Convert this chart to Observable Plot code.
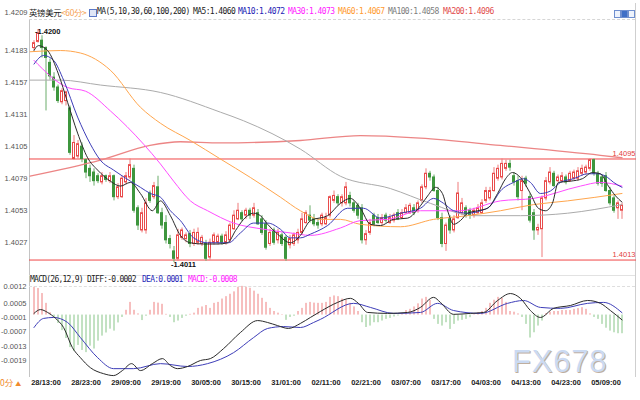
<!DOCTYPE html>
<html><head><meta charset="utf-8">
<script src="https://cdn.jsdelivr.net/npm/d3@7"></script>
<script src="https://cdn.jsdelivr.net/npm/@observablehq/plot@0.6"></script>
<style>
html,body{margin:0;padding:0;background:#fff;}
#wrap{position:relative;width:640px;height:400px;overflow:hidden;background:#fff;font-family:"Liberation Sans",Arial,sans-serif;}
#wrap svg{position:absolute;left:0;}
.hdr{position:absolute;white-space:pre;font-family:"DejaVu Sans Mono",monospace;font-size:8px;letter-spacing:-0.6px;line-height:10px;}
.ln{position:absolute;}
</style></head><body><div id="wrap"></div>
<script>
// ---------------- DATA ----------------
const candleOpen = [1.4185,1.4190,1.4191,1.4185,1.4173,1.4161,1.4153,1.4141,1.4142,1.4136,
1.4095,1.4097,1.4105,1.4094,1.4087,1.4084,1.4081,1.4076,1.4081,1.4077,
1.4081,1.4064,1.4064,1.4076,1.4080,1.4087,1.4055,1.4037,1.4037,1.4067,
1.4064,1.4072,1.4051,1.4043,1.4030,1.4020,1.4014,1.4031,1.4030,1.4034,
1.4026,1.4027,1.4026,1.4026,1.4015,1.4027,1.4027,1.4032,1.4027,1.4029,
1.4038,1.4046,1.4051,1.4049,1.4053,1.4049,1.4051,1.4046,1.4042,1.4026,
1.4037,1.4029,1.4033,1.4031,1.4025,1.4026,1.4029,1.4035,1.4043,1.4049,
1.4046,1.4043,1.4042,1.4042,1.4049,1.4061,1.4064,1.4059,1.4059,1.4065,
1.4059,1.4057,1.4055,1.4029,1.4035,1.4049,1.4047,1.4043,1.4049,1.4043,
1.4045,1.4051,1.4047,1.4051,1.4051,1.4055,1.4053,1.4061,1.4072,1.4083,
1.4080,1.4069,1.4047,1.4026,1.4046,1.4037,1.4047,1.4051,1.4055,1.4053,
1.4049,1.4051,1.4051,1.4061,1.4063,1.4069,1.4079,1.4080,1.4087,1.4091,
1.4081,1.4077,1.4069,1.4079,1.4064,1.4051,1.4037,1.4038,1.4063,1.4076,
1.4083,1.4077,1.4077,1.4080,1.4077,1.4079,1.4079,1.4083,1.4084,1.4087,
1.4094,1.4083,1.4080,1.4081,1.4069,1.4063,1.4055,1.4053];
const candleHigh = [1.4191,1.4200,1.4195,1.4186,1.4176,1.4165,1.4155,1.4152,1.4150,1.4138,
1.4114,1.4110,1.4108,1.4095,1.4090,1.4087,1.4083,1.4084,1.4082,1.4084,
1.4082,1.4075,1.4081,1.4084,1.4095,1.4090,1.4057,1.4055,1.4063,1.4069,
1.4076,1.4081,1.4055,1.4049,1.4033,1.4024,1.4038,1.4039,1.4035,1.4037,
1.4038,1.4039,1.4033,1.4029,1.4030,1.4035,1.4034,1.4034,1.4036,1.4043,
1.4053,1.4059,1.4053,1.4055,1.4055,1.4059,1.4054,1.4049,1.4045,1.4038,
1.4039,1.4038,1.4035,1.4033,1.4033,1.4035,1.4038,1.4051,1.4053,1.4057,
1.4050,1.4046,1.4051,1.4051,1.4065,1.4069,1.4066,1.4066,1.4076,1.4068,
1.4061,1.4059,1.4058,1.4037,1.4046,1.4051,1.4050,1.4050,1.4051,1.4050,
1.4051,1.4054,1.4054,1.4058,1.4059,1.4058,1.4061,1.4074,1.4087,1.4085,
1.4082,1.4072,1.4051,1.4043,1.4049,1.4049,1.4076,1.4063,1.4057,1.4055,
1.4055,1.4058,1.4062,1.4072,1.4072,1.4088,1.4090,1.4095,1.4094,1.4094,
1.4084,1.4081,1.4081,1.4081,1.4067,1.4054,1.4042,1.4065,1.4080,1.4088,
1.4085,1.4082,1.4084,1.4082,1.4085,1.4086,1.4088,1.4090,1.4090,1.4095,
1.4095,1.4085,1.4082,1.4084,1.4072,1.4065,1.4061,1.4059];
const candleLow = [1.4183,1.4189,1.4177,1.4134,1.4159,1.4150,1.4140,1.4139,1.4138,1.4098,
1.4094,1.4095,1.4092,1.4079,1.4076,1.4073,1.4075,1.4074,1.4076,1.4075,
1.4061,1.4062,1.4063,1.4074,1.4078,1.4051,1.4037,1.4035,1.4034,1.4059,
1.4062,1.4050,1.4038,1.4026,1.4022,1.4011,1.4012,1.4029,1.4027,1.4023,
1.4024,1.4025,1.4024,1.4012,1.4013,1.4025,1.4025,1.4025,1.4025,1.4027,
1.4037,1.4045,1.4044,1.4046,1.4046,1.4047,1.4041,1.4033,1.4021,1.4024,
1.4025,1.4026,1.4024,1.4012,1.4022,1.4024,1.4026,1.4033,1.4042,1.4043,
1.4040,1.4038,1.4040,1.4041,1.4047,1.4059,1.4057,1.4056,1.4057,1.4056,
1.4051,1.4046,1.4026,1.4025,1.4033,1.4040,1.4042,1.4041,1.4043,1.4042,
1.4043,1.4045,1.4046,1.4050,1.4050,1.4049,1.4051,1.4059,1.4070,1.4077,
1.4068,1.4045,1.4023,1.4020,1.4034,1.4035,1.4046,1.4049,1.4047,1.4046,
1.4047,1.4050,1.4050,1.4059,1.4061,1.4068,1.4077,1.4078,1.4085,1.4085,
1.4073,1.4061,1.4053,1.4072,1.4043,1.4029,1.4033,1.4015,1.4061,1.4074,
1.4072,1.4076,1.4076,1.4074,1.4076,1.4077,1.4077,1.4081,1.4082,1.4085,
1.4081,1.4073,1.4072,1.4068,1.4057,1.4051,1.4046,1.4046];
const candleClose = [1.4189,1.4197,1.4185,1.4177,1.4162,1.4153,1.4142,1.4150,1.4149,1.4100,
1.4108,1.4107,1.4095,1.4084,1.4081,1.4077,1.4077,1.4081,1.4078,1.4081,
1.4064,1.4072,1.4079,1.4081,1.4090,1.4053,1.4041,1.4051,1.4059,1.4061,
1.4073,1.4051,1.4041,1.4029,1.4026,1.4014,1.4033,1.4037,1.4033,1.4026,
1.4035,1.4035,1.4031,1.4014,1.4027,1.4033,1.4032,1.4027,1.4033,1.4041,
1.4049,1.4053,1.4046,1.4053,1.4049,1.4055,1.4042,1.4035,1.4023,1.4035,
1.4027,1.4035,1.4026,1.4014,1.4030,1.4033,1.4035,1.4046,1.4051,1.4045,
1.4042,1.4041,1.4049,1.4047,1.4064,1.4065,1.4059,1.4064,1.4072,1.4059,
1.4053,1.4049,1.4029,1.4034,1.4043,1.4042,1.4043,1.4047,1.4045,1.4047,
1.4049,1.4046,1.4051,1.4055,1.4057,1.4051,1.4059,1.4072,1.4083,1.4080,
1.4069,1.4047,1.4026,1.4041,1.4037,1.4046,1.4067,1.4059,1.4049,1.4049,
1.4053,1.4055,1.4059,1.4069,1.4069,1.4083,1.4087,1.4091,1.4091,1.4088,
1.4076,1.4064,1.4077,1.4075,1.4045,1.4037,1.4039,1.4063,1.4077,1.4084,
1.4073,1.4080,1.4081,1.4076,1.4083,1.4084,1.4085,1.4087,1.4088,1.4094,
1.4083,1.4075,1.4075,1.4069,1.4059,1.4053,1.4059,1.4057];

// moving averages: [bar, value]
const ma5Line = [[0,1.4183],[1.1,1.4187],[3.4,1.4183],[6.1,1.4164],[8.4,1.4141],[10.9,1.4116],[13.4,1.4096],[15.9,1.4086],[19.1,1.4077],[21.6,1.4073],[24.1,1.4076],[26.6,1.4067],[29.6,1.4053],[31.6,1.4061],[34.1,1.4049],[36.6,1.4033],[39.1,1.4027],[42.4,1.4026],[45.9,1.4026],[48.4,1.4027],[50.4,1.4037],[52.4,1.4046],[54.9,1.4051],[56.6,1.4049],[58.4,1.4042],[60.9,1.4034],[64.1,1.4027],[66.6,1.4033],[69.1,1.4045],[73.4,1.4049],[76.6,1.4059],[79.1,1.4063],[81.6,1.4055],[84.1,1.4042],[86.6,1.4041],[89.9,1.4046],[93.4,1.4047],[96.6,1.4057],[98.4,1.4065],[100.4,1.4072],[102.1,1.4067],[103.4,1.4053],[104.9,1.4042],[106.6,1.4045],[108.4,1.4051],[110.9,1.4053],[113.4,1.4055],[115.9,1.4067],[117.9,1.4079],[119.6,1.4084],[121.6,1.4080],[124.1,1.4067],[126.1,1.4055],[127.9,1.4053],[129.6,1.4059],[131.1,1.4076],[134.1,1.4077],[137.1,1.4079],[139.6,1.4084],[141.6,1.4083],[143.6,1.4073],[145.4,1.4065],[147,1.4060]];
const ma10Line = [[0,1.4172],[2.4,1.4179],[4.9,1.4175],[7.4,1.4159],[10.9,1.4129],[14.1,1.4107],[16.6,1.4094],[19.9,1.4086],[24.1,1.4077],[26.6,1.4072],[29.1,1.4067],[31.6,1.4064],[34.1,1.4053],[36.6,1.4045],[39.9,1.4031],[43.4,1.4027],[48.6,1.4027],[51.6,1.4035],[54.9,1.4043],[58.4,1.4043],[61.6,1.4038],[64.1,1.4031],[66.6,1.4031],[69.1,1.4034],[73.4,1.4041],[78.4,1.4055],[82.4,1.4055],[86.6,1.4047],[91.6,1.4051],[96.6,1.4055],[99.9,1.4063],[102.4,1.4059],[104.9,1.4053],[108.4,1.4051],[111.6,1.4053],[114.1,1.4057],[116.6,1.4069],[119.9,1.4076],[122.4,1.4079],[124.1,1.4076],[126.6,1.4067],[129.1,1.4069],[131.6,1.4076],[134.9,1.4079],[138.4,1.4083],[140.9,1.4083],[143.4,1.4080],[144.9,1.4076],[147,1.4072]];
const ma30Line = [[0,1.4175],[8.4,1.4153],[12.9,1.4150],[19.1,1.4134],[27.4,1.4107],[31.6,1.4091],[34.9,1.4077],[39.1,1.4061],[43.4,1.4053],[49.9,1.4043],[57.4,1.4038],[64.1,1.4035],[69.1,1.4033],[76.6,1.4039],[81.6,1.4045],[88.4,1.4046],[96.6,1.4053],[106.6,1.4053],[116.6,1.4061],[124.9,1.4063],[136.6,1.4073],[141.6,1.4076],[147,1.4073]];
const ma60Line = [[-1,1.4182],[6.6,1.4183],[11.6,1.4181],[19.1,1.4167],[26.6,1.4137],[31.6,1.4124],[39.1,1.4110],[46.6,1.4095],[54.1,1.4080],[61.6,1.4064],[66.6,1.4053],[71.6,1.4046],[76.6,1.4046],[81.6,1.4042],[91.6,1.4040],[99.9,1.4046],[108.4,1.4049],[116.6,1.4053],[124.9,1.4058],[133.4,1.4061],[147,1.4067]];
const ma100Line = [[-1,1.4159],[6.6,1.4159],[16.6,1.4155],[31.6,1.4149],[46.6,1.4133],[52.4,1.4126],[66.6,1.4103],[76.6,1.4081],[89.1,1.4071],[99.1,1.4059],[109.9,1.4049],[121.6,1.4049],[133.4,1.4051],[147,1.4058]];
const ma200Line = [[-1,1.4081],[16.6,1.4094],[29,1.4106],[36.6,1.4109],[46.6,1.4108],[66.6,1.4110],[81.6,1.4114],[96.6,1.4112],[116.6,1.4106],[141.6,1.4098],[147,1.4096]];

// MACD histogram per bar
const macdHist = [11.6e-4,11.1e-4,9.0e-4,4.9e-4,1.0e-4,-1.4e-4,-3.5e-4,-6.5e-4,-9.8e-4,-13.6e-4,
-15.2e-4,-12.7e-4,-14.8e-4,-15.7e-4,-13.0e-4,-14.2e-4,-10.9e-4,-8.8e-4,-7.5e-4,-5.9e-4,
-6.7e-4,-3.3e-4,-1.0e-4,2.0e-4,5.3e-4,2.0e-4,0.5e-4,-2.3e-4,-0.5e-4,2.0e-4,
5.3e-4,5.0e-4,4.5e-4,0.3e-4,-1.0e-4,-3.2e-4,-2.5e-4,-1.4e-4,-0.5e-4,0.3e-4,
0.8e-4,2.8e-4,3.4e-4,4.0e-4,2.8e-4,4.9e-4,5.3e-4,6.7e-4,7.7e-4,8.7e-4,
9.7e-4,11.6e-4,12.0e-4,11.6e-4,11.2e-4,10.0e-4,8.7e-4,7.0e-4,5.3e-4,2.8e-4,
1.5e-4,0.8e-4,0.2e-4,-2.2e-4,-1.0e-4,-0.5e-4,1.5e-4,2.8e-4,4.9e-4,5.3e-4,
5.0e-4,4.9e-4,4.9e-4,5.3e-4,7.4e-4,8.0e-4,7.7e-4,6.7e-4,6.2e-4,4.9e-4,
3.4e-4,1.5e-4,-3.2e-4,-5.2e-4,-4.6e-4,-3.2e-4,-3.2e-4,-2.5e-4,-1.8e-4,-1.4e-4,
-0.8e-4,-0.4e-4,0.5e-4,1.9e-4,2.4e-4,3.4e-4,4.7e-4,6.7e-4,7.4e-4,6.2e-4,
-1.8e-4,-3.9e-4,-4.6e-4,-3.2e-4,-6.0e-4,-3.9e-4,-2.5e-4,-2.2e-4,-1.8e-4,-1.1e-4,
0.2e-4,1.0e-4,1.5e-4,2.8e-4,4.9e-4,6.2e-4,7.4e-4,7.0e-4,5.3e-4,1.5e-4,
1.2e-4,0.5e-4,-1.0e-4,-3.9e-4,-9.6e-4,-7.4e-4,-4.6e-4,-2.5e-4,0.6e-4,1.2e-4,
1.5e-4,1.5e-4,1.9e-4,1.9e-4,1.9e-4,2.4e-4,2.7e-4,3.1e-4,2.4e-4,0.5e-4,
-1.0e-4,-1.8e-4,-3.9e-4,-5.5e-4,-6.7e-4,-7.4e-4,-7.8e-4,-7.8e-4];
const macdDiff = [[0,0.7e-4],[1.6,2.3e-4],[3.4,1.1e-4],[5.4,-1.4e-4],[7.4,-5.2e-4],[9.6,-13.6e-4],[11.6,-17.8e-4],[14.1,-22e-4],[17.4,-24.5e-4],[19.9,-25.3e-4],[22.1,-23.2e-4],[24.4,-20.3e-4],[26.6,-23.2e-4],[29.6,-20.3e-4],[32.1,-18.2e-4],[34.1,-21.1e-4],[35.9,-22.4e-4],[38.4,-21.5e-4],[41.6,-19e-4],[44.1,-18.2e-4],[47.4,-14e-4],[51.6,-7.3e-4],[55.9,-2.3e-4],[58.4,-3.1e-4],[60.9,-4.4e-4],[63.6,-5.6e-4],[66.6,-3.5e-4],[69.1,-1e-4],[71.6,1.5e-4],[75.9,5.3e-4],[79.1,7.0e-4],[81.1,4.9e-4],[83.4,1.1e-4],[88.4,0.7e-4],[93.4,1.1e-4],[96.6,3.2e-4],[99.9,7.4e-4],[101.6,5.3e-4],[104.9,0.3e-4],[109.1,0.7e-4],[112.4,1.1e-4],[115.9,6.1e-4],[119.1,9.0e-4],[121.6,7.0e-4],[124.1,1.9e-4],[126.6,-1.0e-4],[129.9,2.8e-4],[134.1,4.0e-4],[138.4,6.1e-4],[141.6,4.9e-4],[144.1,1.9e-4],[147,-2e-4]];
const macdDea = [[0,-5.2e-4],[2.4,-1.4e-4],[4.9,-1.0e-4],[8.4,-3.1e-4],[11.6,-9.4e-4],[15.9,-17.8e-4],[19.9,-22.4e-4],[24.9,-22.4e-4],[31.6,-20.3e-4],[38.4,-21.5e-4],[43.4,-20.3e-4],[49.9,-15.7e-4],[54.9,-9.4e-4],[58.4,-5.6e-4],[62.4,-4.8e-4],[66.6,-5.2e-4],[69.9,-3.1e-4],[71.6,-1.8e-4],[79.9,4.9e-4],[84.1,3.2e-4],[89.9,0.7e-4],[96.6,1.1e-4],[100.9,4.9e-4],[104.9,1.9e-4],[111.6,0.7e-4],[118.4,4.9e-4],[122.4,6.1e-4],[126.6,3.2e-4],[131.6,2.8e-4],[138.4,4.9e-4],[142.4,5.3e-4],[147,1.0e-4]];

const priceTicks = [1.4209,1.4183,1.4157,1.4131,1.4105,1.4079,1.4053,1.4027];
const macdTicks = [0.0012,0.0005,-0.0001,-0.0007,-0.0013,-0.0019];
const timeLabels = ["28/13:00","28/23:00","29/09:00","29/19:00","30/05:00","30/15:00","31/01:00","02/11:00","02/21:00","03/07:00","03/17:00","04/03:00","04/13:00","04/23:00","05/09:00"];
const timeLabelBar = [3,13,23,33,43,53,63,73,83,93,103,113,123,133,143];
const levelLines = [1.4095, 1.4013];
const extremes = [{bar:1, value:1.4200}, {bar:35, value:1.4011}];
const maNames = ["MA5","MA10","MA30","MA60","MA100","MA200"];
const maLast = [1.4060,1.4072,1.4073,1.4067,1.4058,1.4096];
const macdNames = ["DIFF","DEA","MACD"];
const macdLast = [-0.0002,0.0001,-0.0008];

// ---------------- RENDER ----------------
const wrap = document.getElementById("wrap");
function addEl(html, css, cls){ const d=document.createElement("div"); if(cls) d.className=cls; d.innerHTML=html; d.style.cssText=css; wrap.appendChild(d); return d; }

// frame lines
addEl("", "left:29px;top:19px;width:1px;height:358px;background:#c4c4c4;", "ln");
addEl("", "left:635px;top:3px;width:1px;height:374px;background:#cfcfcf;", "ln");
addEl("", "left:29px;top:19px;width:606px;height:0;border-top:1px dashed #d6d6d6;", "ln");
addEl("", "left:29px;top:275px;width:606px;height:1px;background:#e2e2e2;", "ln");
addEl("", "left:29px;top:286px;width:606px;height:0;border-top:1px dashed #dedede;", "ln");

const X = [-1.125, 150.625];
const RED = "#e94b4b", GREEN = "#3e963e";
const bars = candleOpen.map((o,i)=>({i, o, h:candleHigh[i], l:candleLow[i], c:candleClose[i], up:candleClose[i]>=o}));
const lineOpts = (stroke, w=1) => ({x:d=>d[0], y:d=>d[1], stroke, strokeWidth:w, curve:"monotone-x"});
const axisFont = 7.5;

const pricePlot = Plot.plot({
  width:640, height:270, marginTop:18, marginBottom:8, marginLeft:29, marginRight:4,
  x:{domain:X, axis:null}, y:{domain:[1.4011,1.4209], axis:null}, color:{type:"identity"},
  style:{background:"transparent", fontFamily:"'Liberation Sans',Arial,sans-serif", overflow:"visible"},
  marks:[
    Plot.ruleY(levelLines, {stroke:"#f04646", strokeWidth:1}),
    Plot.ruleX(bars, {x:"i", y1:"l", y2:"h", stroke:d=>d.up?"#ef7a7a":"#6aac6a", strokeWidth:1}),
    Plot.rect(bars, {x1:d=>d.i-0.25, x2:d=>d.i+0.25, y1:"o", y2:"c", fill:d=>d.up?"#ffffff":GREEN, stroke:d=>d.up?RED:GREEN, strokeWidth:1}),
    Plot.line(ma200Line, lineOpts("#ec8585",1.3)),
    Plot.line(ma100Line, lineOpts("#ababab")),
    Plot.line(ma60Line, lineOpts("#ffa64d")),
    Plot.line(ma30Line, lineOpts("#ff4cff")),
    Plot.line(ma10Line, lineOpts("#3d3db8")),
    Plot.line(ma5Line, lineOpts("#2a2a2a")),
    Plot.text(priceTicks.slice(1), {x:X[0], y:d=>d, text:d=>d.toFixed(4), textAnchor:"end", dx:-2, fontSize:axisFont, fill:"#555"}),
    Plot.text(priceTicks.slice(0,1), {x:X[0], y:d=>d, text:d=>d.toFixed(4), textAnchor:"end", dx:-2, dy:-6, fontSize:axisFont, fill:"#555"}),
    Plot.text(levelLines, {x:X[1], y:d=>d, text:d=>d.toFixed(4), textAnchor:"end", dx:-1, dy:-5, fontSize:7.5, fill:"#e23c3c"}),
    Plot.text(extremes, {x:"bar", y:"value", text:d=>"-"+d.value.toFixed(4), textAnchor:"start", dx:-3, dy:2, fontSize:7.5, fontWeight:"bold", fill:"#111"})
  ]
});
pricePlot.style.top = "0px";
wrap.appendChild(pricePlot);

const histData = macdHist.map((v,i)=>({i, v}));
const macdPlot = Plot.plot({
  width:640, height:130, marginTop:13, marginBottom:23, marginLeft:29, marginRight:4,
  x:{domain:X, axis:null}, y:{domain:[-0.00261,0.00132], axis:null}, color:{type:"identity"},
  style:{background:"transparent", fontFamily:"'Liberation Sans',Arial,sans-serif", overflow:"visible"},
  marks:[
    Plot.ruleX(histData, {x:"i", y1:0, y2:"v", stroke:d=>d.v>=0?"#ee7f7f":"#86c486", strokeWidth:1}),
    Plot.line(macdDea, lineOpts("#3d3db8")),
    Plot.line(macdDiff, lineOpts("#2a2a2a")),
    Plot.text(macdTicks, {x:X[0], y:d=>d, text:d=>d.toFixed(4), textAnchor:"end", dx:-3, fontSize:axisFont, fill:"#555"}),
    Plot.text(timeLabels, {x:(d,k)=>timeLabelBar[k], y:-0.00261, text:d=>d, dy:5, fontSize:7.5, fontWeight:"bold", fill:"#222"})
  ]
});
macdPlot.style.top = "270px";
wrap.appendChild(macdPlot);

// header texts
addEl("英镑美元", "left:29px;top:6px;font-family:'Noto Sans CJK SC';font-size:8.4px;line-height:12px;color:#222;white-space:pre;letter-spacing:-0.3px;", "hdr");
addEl("&lt;60分&gt;", "left:61px;top:6px;font-family:'Noto Sans CJK SC';font-size:8.4px;line-height:12px;color:#f5a050;white-space:pre;letter-spacing:-0.3px;", "hdr");
addEl("", "left:89px;top:9px;width:6px;height:6px;border:1px solid #5a78c8;background:#dfe6f7;", "ln");
addEl("MA(5,10,30,60,100,200)", "left:97px;top:7px;color:#222;", "hdr");
const maLeft = [193,238,288,338,388,443];
const maColors = ["#222","#2222b4","#ff1aff","#ff9a2e","#7d7d7d","#e24c4c"];
maNames.forEach((n,k)=>addEl(n+":"+maLast[k].toFixed(4), `left:${maLeft[k]}px;top:7px;color:${maColors[k]};`, "hdr"));
// top-right icons
[614,621,628].forEach((l,k)=>addEl("", `left:${l}px;top:10px;width:5px;height:6px;border:1px solid #6f8fcf;background:${k===1?"#3f6fc6":"#eef3fc"};`, "ln"));

// MACD header
addEl("MACD(26,12,9) "+macdNames[0]+":"+macdLast[0].toFixed(4), "left:30px;top:275px;color:#222;letter-spacing:-0.75px;", "hdr");
addEl(macdNames[1]+":"+macdLast[1].toFixed(4), "left:142px;top:275px;color:#2a2ab8;letter-spacing:-0.75px;", "hdr");
addEl(macdNames[2]+":"+macdLast[2].toFixed(4), "left:188px;top:275px;color:#ff1aff;letter-spacing:-0.75px;", "hdr");

// bottom-left period button (cut at the edge in the original) and watermark
addEl("0分 <span style='font-size:6px'>▲</span>", "position:absolute;left:0px;top:377px;font-family:'Noto Sans CJK SC';font-size:8.5px;line-height:10px;color:#f08a2c;white-space:pre;");
addEl("FX678", "position:absolute;left:512px;top:348px;font-family:'Liberation Sans',Arial,sans-serif;font-size:31px;line-height:28px;color:#cbdaf2;text-shadow:1px 1px 0 #bfae9e;letter-spacing:0.8px;");
</script></body></html>
